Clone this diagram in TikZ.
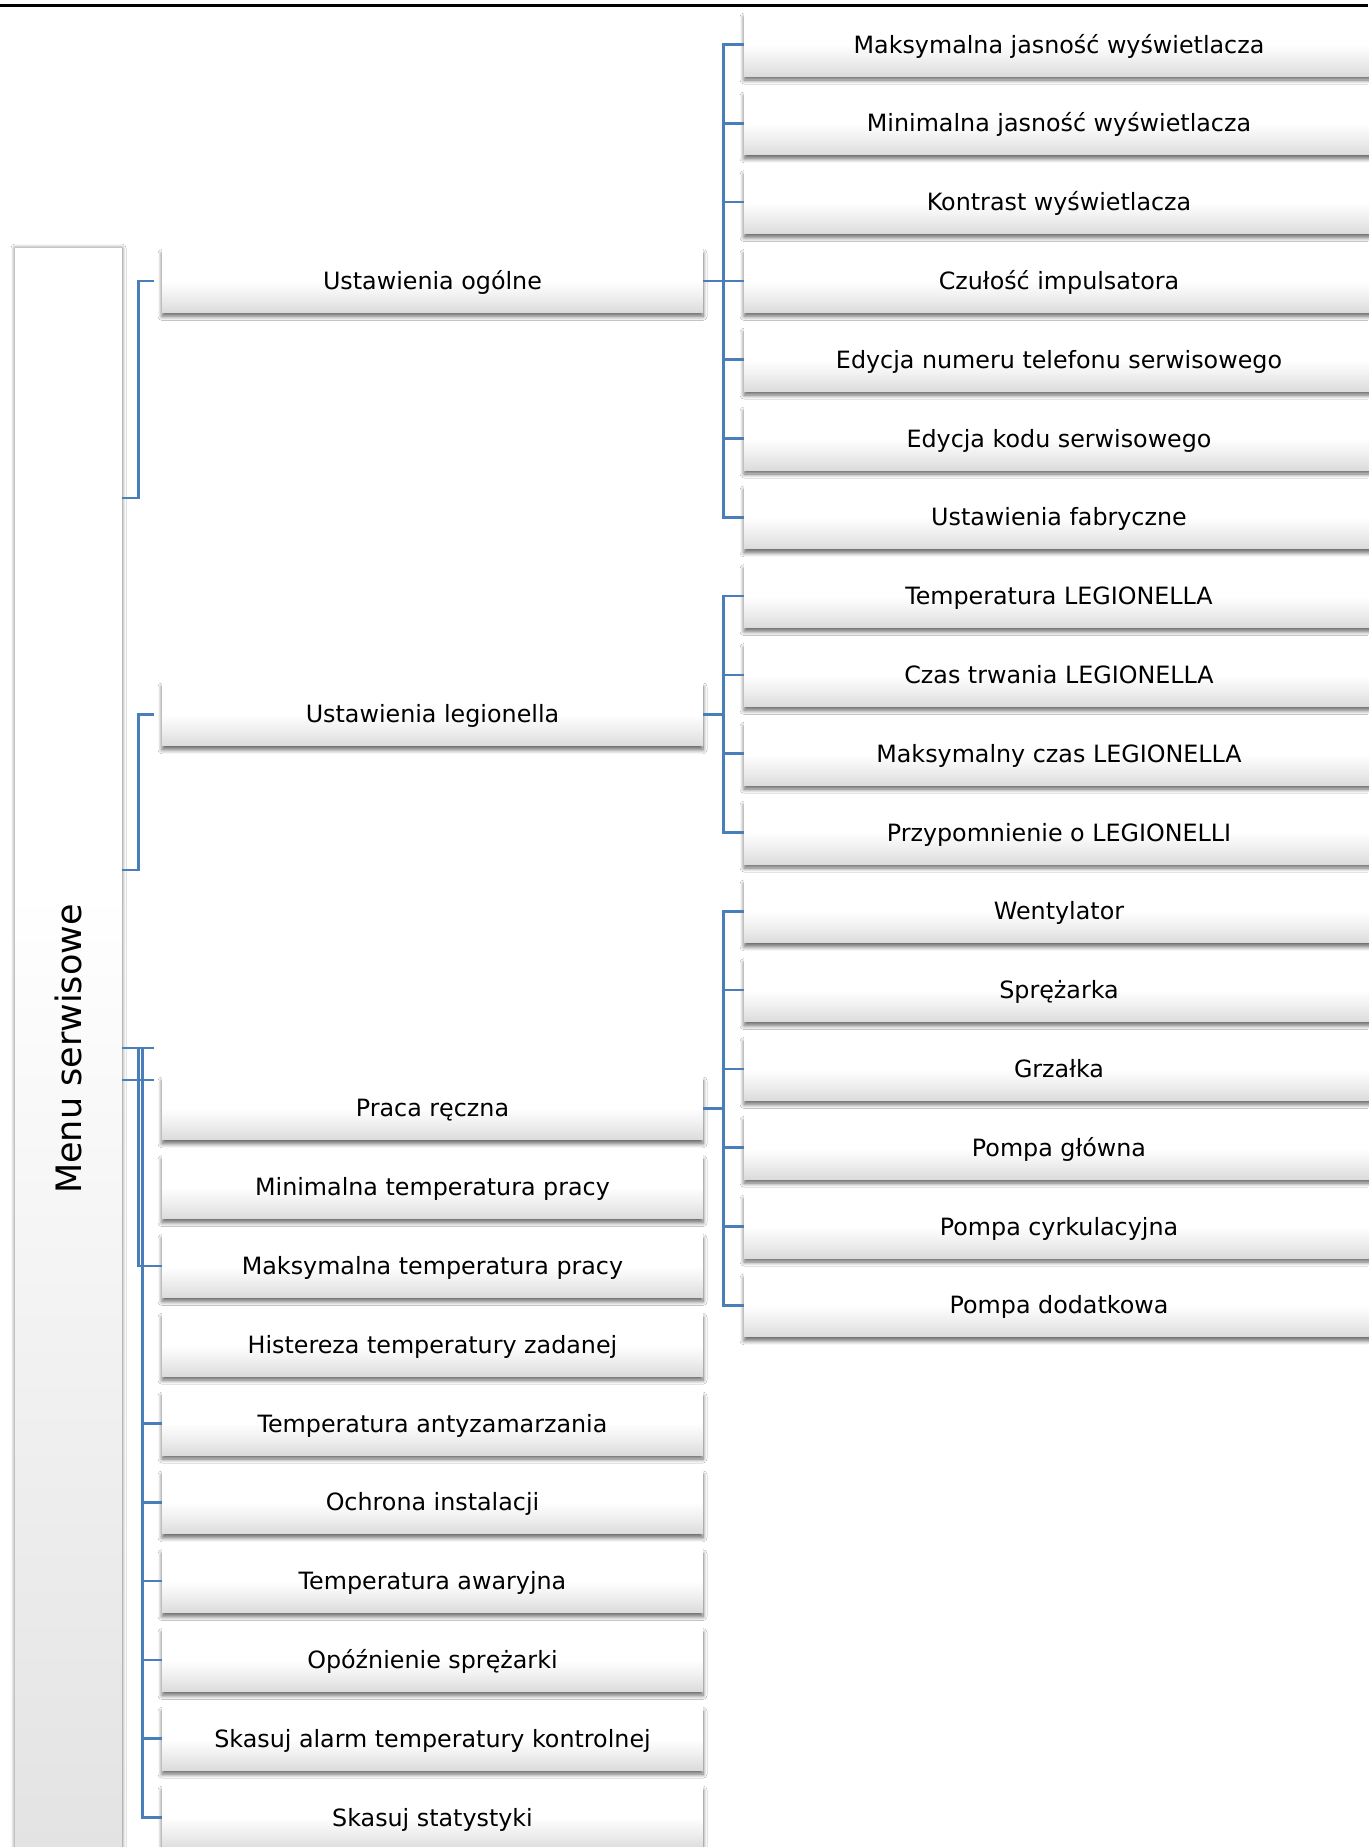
\documentclass[tikz,border=0pt]{standalone}
\usepackage{fontspec}
\setmainfont{DejaVu Sans}
\usetikzlibrary{shadows.blur,calc}
\definecolor{conncol}{HTML}{4A7EBB}
\pgfdeclareverticalshading{boxshade}{100bp}{color(0bp)=(black!14); color(25bp)=(black!14); color(38bp)=(black!6); color(50bp)=(white); color(100bp)=(white)}
\pgfdeclareverticalshading{mainshade}{100bp}{color(0bp)=(black!11); color(25bp)=(black!11); color(55bp)=(white); color(100bp)=(white)}
\tikzset{
  box/.style={minimum height=63pt, inner sep=0pt, shade, shading=boxshade,
    font=\fontsize{23.8}{28}\selectfont, text=black, text height=20pt, text depth=3pt,
    blur shadow={shadow xshift=0pt, shadow yshift=-4pt, shadow blur radius=4pt, shadow opacity=60, shadow blur steps=8}},
  lvlone/.style={box, minimum width=541pt},
  lvltwo/.style={box, minimum width=630pt},
  mainbox/.style={minimum width=107pt, minimum height=1602pt, inner sep=0pt, shade, shading=mainshade,
    blur shadow={shadow xshift=0pt, shadow yshift=0pt, shadow blur radius=4pt, shadow opacity=55, shadow blur steps=8}},
  conn/.style={draw=conncol, line width=2.7pt},
}
\begin{document}
\begin{tikzpicture}[x=1pt, y=-1pt]
\useasboundingbox (0,0) rectangle (1368,1847);
\fill[white] (0,0) rectangle (1368,1847);
% top rule
\draw[line width=2.5pt] (0,5.5) -- (1368,5.5);
% main box
\node[mainbox] (main) at (68.5,1049) {};
\node[rotate=90, font=\fontsize{35}{40}\selectfont, inner sep=0pt] (mainlabel) at (main.center) {Menu serwisowe};
% level-2 boxes
\foreach \t [count=\i] in {Maksymalna jasność wyświetlacza, Minimalna jasność wyświetlacza, Kontrast wyświetlacza,
  Czułość impulsatora, Edycja numeru telefonu serwisowego, Edycja kodu serwisowego, Ustawienia fabryczne,
  Temperatura LEGIONELLA, Czas trwania LEGIONELLA, Maksymalny czas LEGIONELLA, Przypomnienie o LEGIONELLI,
  Wentylator, Sprężarka, Grzałka, Pompa główna, Pompa cyrkulacyjna, Pompa dodatkowa}
  \node[lvltwo] (s\i) at (1059, {44.5+78.8*(\i-1)}) {\t};
% level-1 boxes
\node[lvlone] (g1) at (432.5, 280.9) {Ustawienia ogólne};
\node[lvlone] (g2) at (432.5, 714.3) {Ustawienia legionella};
\foreach \t [count=\i from 3] in {Praca ręczna, Minimalna temperatura pracy, Maksymalna temperatura pracy,
  Histereza temperatury zadanej, Temperatura antyzamarzania, Ochrona instalacji, Temperatura awaryjna,
  Opóźnienie sprężarki, Skasuj alarm temperatury kontrolnej, Skasuj statystyki}
  \node[lvlone] (g\i) at (432.5, {1108.3+78.8*(\i-3)}) {\t};
% connectors level 1 -> level 2
\foreach \k in {1,...,7} \draw[conn] (g1.east) -- ++(20,0) |- (s\k.west);
\foreach \k in {8,...,11} \draw[conn] (g2.east) -- ++(20,0) |- (s\k.west);
\foreach \k in {12,...,17} \draw[conn] (g3.east) -- ++(20,0) |- (s\k.west);
% connectors main -> level 1
\draw[conn] (main.east |- 0,498) -- ++(16,0) |- ([xshift=-8pt]g1.west);
\draw[conn] (main.east |- 0,870) -- ++(16,0) |- ([xshift=-8pt]g2.west);
\draw[conn] (main.east |- 0,1048) -- ++(32,0);
\draw[conn] (main.east |- 0,1080) -- ([xshift=-8pt]g3.north west |- 0,1080);
\draw[conn] (main.east |- 0,1048) -- ++(16,0) |- (g5.west);
\draw[conn] (main.east |- 0,1048) -- ++(20.5,0) |- (g12.west);
\foreach \k in {7,...,11} \draw[conn] ([xshift=-20pt]g\k.west) -- (g\k.west);
\end{tikzpicture}
\end{document}
